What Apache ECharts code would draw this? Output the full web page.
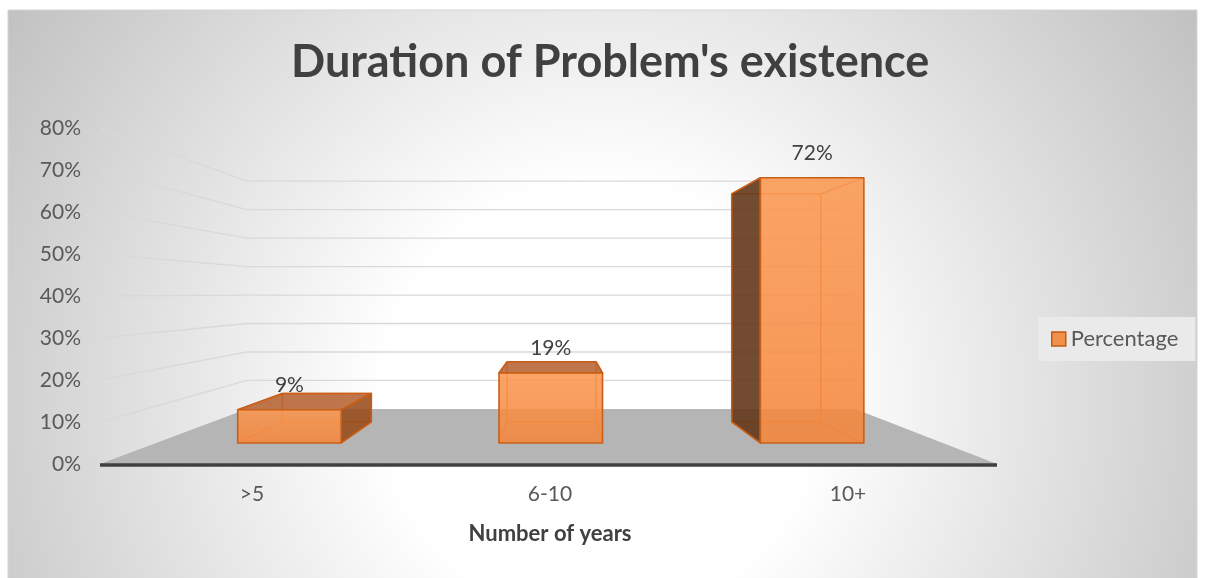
<!DOCTYPE html>
<html>
<head>
<meta charset="utf-8">
<script src="https://cdn.jsdelivr.net/npm/echarts@6/dist/echarts.min.js"></script>
<style>
  html, body { margin: 0; padding: 0; background: #ffffff; }
  #chart { width: 1205px; height: 578px; }
</style>
</head>
<body>
<div id="chart"></div>
<script>
// ---- data ----
const categories = ['>5', '6-10', '10+'];
const percentages = [0.09, 0.19, 0.72];
const valueTicks = [0, 0.1, 0.2, 0.3, 0.4, 0.5, 0.6, 0.7, 0.8];
const seriesName = 'Percentage';
const chartTitle = "Duration of Problem's existence";
const xAxisTitle = 'Number of years';

// ---- 3D look: vanishing point (fraction of the plot rect) and depth scale of each plane ----
const VP_X = 0.507, VP_Y = 0.491;
const DEPTH_WALL = 0.678, DEPTH_BAR_FRONT = 0.877, DEPTH_BAR_BACK = 0.754;
const BAR_HALF = 0.198;          // half bar width as a share of the category band
const FLOOR_PAD_LEFT = 3;
const FONT = 'Lato, "Noto Sans", sans-serif';

function vanishing(cs) {
  return [cs.x + cs.width * VP_X, cs.y + cs.height * VP_Y];
}
function makeProjector(cs) {
  const vp = vanishing(cs);
  return (x, y, t) => [vp[0] + t * (x - vp[0]), vp[1] + t * (y - vp[1])];
}

// floor, back wall and side wall gridlines, one item per value tick
function renderWalls(params, api) {
  const cs = params.coordSys;
  const proj = makeProjector(cs);
  const v = api.value(1);
  const y = api.coord([0, v])[1];
  const xL = cs.x - FLOOR_PAD_LEFT, xR = cs.x + cs.width;
  const bl = proj(xL, y, DEPTH_WALL), br = proj(xR, y, DEPTH_WALL);
  const children = [];
  if (v === 0) {
    children.push({ type: 'polygon', shape: { points: [[xL, y], [xR, y], br, bl] },
      style: { fill: '#b5b5b5' } });
    children.push({ type: 'line', shape: { x1: xL, y1: y + 1, x2: xR, y2: y + 1 },
      style: { stroke: '#404040', lineWidth: 3.5 } });
  } else {
    const grid = { stroke: '#d9d9d9', lineWidth: 1.3 };
    children.push({ type: 'line', shape: { x1: xL, y1: y, x2: bl[0], y2: bl[1] }, style: grid });
    children.push({ type: 'line', shape: { x1: bl[0], y1: bl[1], x2: br[0], y2: br[1] }, style: grid });
  }
  return { type: 'group', children };
}

// a perspective box per category, with its value label above the front face
function renderBox(params, api) {
  const cs = params.coordSys;
  const proj = makeProjector(cs);
  const vp = vanishing(cs);
  const i = api.value(0), v = api.value(1);
  const b = api.coord([i, 0]), t = api.coord([i, v]);
  const hw = api.size([1, 0])[0] * BAR_HALF;
  const xl = b[0] - hw, xr = b[0] + hw, yb = b[1], yt = t[1];
  const F = (x, y) => proj(x, y, DEPTH_BAR_FRONT);
  const B = (x, y) => proj(x, y, DEPTH_BAR_BACK);
  const fbl = F(xl, yb), fbr = F(xr, yb), ftr = F(xr, yt), ftl = F(xl, yt);
  const bbl = B(xl, yb), bbr = B(xr, yb), btr = B(xr, yt), btl = B(xl, yt);
  const edge = '#c95f17';
  const children = [];
  const inner = { stroke: '#e8732a', lineWidth: 1.3, fill: null };
  const seg = (p, q) => ({ type: 'line', shape: { x1: p[0], y1: p[1], x2: q[0], y2: q[1] }, style: inner });
  children.push(seg(bbl, bbr), seg(bbr, btr), seg(btr, btl), seg(btl, bbl),
                seg(fbl, bbl), seg(fbr, bbr), seg(ftl, btl), seg(ftr, btr));
  const face = (pts, fill) => ({ type: 'polygon', shape: { points: pts },
    style: { fill, stroke: edge, lineWidth: 1.6, lineJoin: 'round' } });
  if (xl > vp[0]) children.push(face([fbl, bbl, btl, ftl], 'rgba(100,55,25,0.9)'));
  if (xr < vp[0]) children.push(face([fbr, bbr, btr, ftr], 'rgba(150,72,22,0.86)'));
  if (yt > vp[1]) children.push(face([ftl, ftr, btr, btl], 'rgba(182,96,46,0.86)'));
  children.push(face([fbl, fbr, ftr, ftl], new echarts.graphic.LinearGradient(0, 0, 0, 1, [
    { offset: 0, color: 'rgba(250,150,78,0.86)' },
    { offset: 1, color: 'rgba(244,134,60,0.88)' }
  ])));
  children.push({ type: 'text', style: {
    text: Math.round(v * 100) + '%', x: (fbl[0] + fbr[0]) / 2, y: ftl[1] - 25,
    align: 'center', verticalAlign: 'middle', fontSize: 21, fontFamily: FONT, fill: '#404040' } });
  return { type: 'group', children };
}

const chart = echarts.init(document.getElementById('chart'), null, { renderer: 'canvas' });
chart.setOption({
  animation: false,
  backgroundColor: '#ffffff',
  graphic: [{
    type: 'rect', z: -10, silent: true,
    shape: { x: 8, y: 10, width: 1189, height: 570 },
    style: {
      fill: new echarts.graphic.RadialGradient(600, 400, 720, [
        { offset: 0, color: '#ffffff' },
        { offset: 0.3, color: '#ffffff' },
        { offset: 1, color: '#c0c0c0' }
      ], true),
      stroke: '#d4d4d4', lineWidth: 1
    }
  }],
  title: {
    text: chartTitle, left: 291, top: 40, padding: 0,
    textStyle: { fontFamily: FONT, fontSize: 45, fontWeight: 'bold', color: '#404040' }
  },
  legend: {
    data: [{ name: seriesName, icon: 'rect',
      itemStyle: { color: '#f0904a', borderColor: '#c55a11', borderWidth: 1.5 } }],
    left: 1038, top: 317, padding: [11, 17, 11, 13],
    backgroundColor: '#eaeaea', itemWidth: 14, itemHeight: 14,
    textStyle: { fontFamily: FONT, fontSize: 22, color: '#595959' }
  },
  grid: { left: 103, right: 208, top: 128, bottom: 114, containLabel: false },
  xAxis: {
    type: 'category', data: categories,
    axisLine: { show: false }, axisTick: { show: false },
    axisLabel: { margin: 20, fontFamily: FONT, fontSize: 21, color: '#595959' },
    name: xAxisTitle, nameLocation: 'middle', nameGap: 59,
    nameTextStyle: { fontFamily: FONT, fontSize: 22, fontWeight: 'bold', color: '#404040' }
  },
  yAxis: {
    type: 'value', min: 0, max: 0.8, interval: 0.1,
    axisLine: { show: false }, axisTick: { show: false }, splitLine: { show: false },
    axisLabel: { margin: 22, fontFamily: FONT, fontSize: 21, color: '#595959',
      formatter: v => Math.round(v * 100) + '%' }
  },
  series: [
    { type: 'custom', name: 'walls', silent: true, z: 1, clip: false,
      data: valueTicks.map(v => [0, v]), renderItem: renderWalls },
    { type: 'custom', name: seriesName, silent: true, z: 3, clip: false,
      itemStyle: { color: '#f0904a' },
      data: percentages.map((v, i) => [i, v]), renderItem: renderBox }
  ]
});
</script>
</body>
</html>
